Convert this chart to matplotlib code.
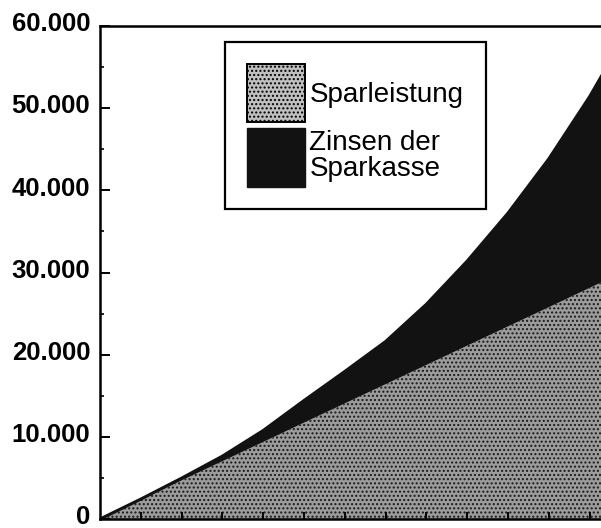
import matplotlib
matplotlib.use("Agg")
import matplotlib.pyplot as plt
import matplotlib.transforms as mtransforms
from matplotlib.patches import Patch
from matplotlib.ticker import FixedLocator

# ---- data ----
years = [0, 1, 2, 3, 4, 5, 6, 7, 8, 9, 10, 11, 12, 13]
sparleistung = [0, 2340, 4690, 7030, 9370, 11720, 14060, 16400, 18740, 21090, 23430, 25770, 28120, 30460]
zinsen = [0, 80, 280, 620, 1400, 2700, 3900, 5200, 7400, 10300, 13800, 18060, 23280, 29540]
series_labels = ["Sparleistung", "Zinsen der\nSparkasse"]
ytick_values = [0, 10000, 20000, 30000, 40000, 50000, 60000]
ytick_labels = ["0", "10.000", "20.000", "30.000", "40.000", "50.000", "60.000"]

plt.rcParams["font.family"] = ["Liberation Sans", "DejaVu Sans"]
plt.rcParams["hatch.color"] = "#1a1a1a"
plt.rcParams["hatch.linewidth"] = 1.0

W, H = 601, 528
fig = plt.figure(figsize=(W / 100, H / 100), dpi=100)
fig.patch.set_facecolor("white")

# axes: x=0 at px 100, y=0 at px 519, y=60000 at px 26; right side cut off by the figure edge
ax = fig.add_axes([100 / W, (H - 519) / H, (W - 100) / W, (519 - 26) / H])

grey = "#9c9c9c"
black = "#121212"
total = [s + z for s, z in zip(sparleistung, zinsen)]
ax.fill_between(years, 0, sparleistung, facecolor=grey, hatch="....", linewidth=0)
ax.fill_between(years, sparleistung, total, facecolor=black, linewidth=0)
ax.plot(years, total, color=black, linewidth=2.2, solid_joinstyle="round")

ax.set_xlim(0, (W - 100) / 40.8)
ax.set_ylim(0, 60000)

ax.yaxis.set_major_locator(FixedLocator(ytick_values))
ax.set_yticklabels(ytick_labels)
ax.yaxis.set_minor_locator(FixedLocator([5000, 15000, 25000, 35000, 45000, 55000]))
ax.tick_params(axis="y", which="major", direction="in", length=7, width=1.4,
               labelsize=18.5, pad=7, colors="black")
ax.tick_params(axis="y", which="minor", direction="in", length=3, width=1.2)
offset = mtransforms.ScaledTranslation(0, 3 / 72, fig.dpi_scale_trans)
for lbl in ax.get_yticklabels():
    lbl.set_fontweight("bold")
    lbl.set_transform(lbl.get_transform() + offset)

ax.xaxis.set_major_locator(FixedLocator(years[1:]))
ax.tick_params(axis="x", which="major", direction="in", length=5, width=1.4,
               labelbottom=False)

for side in ("left", "bottom", "top"):
    ax.spines[side].set_linewidth(1.8)
    ax.spines[side].set_color("black")
ax.spines["right"].set_visible(False)

handles = [
    Patch(facecolor="#c0c0c0", hatch="....", edgecolor="black", linewidth=1.4),
    Patch(facecolor=black, edgecolor=black, linewidth=1.0),
]
leg = ax.legend(handles, series_labels, loc="upper left",
                bbox_to_anchor=(225 / W, 1 - 42 / H), bbox_transform=fig.transFigure,
                borderaxespad=0, fontsize=20, handlelength=2.09, handleheight=2.84,
                handletextpad=0.15, borderpad=0.8, labelspacing=0.22,
                frameon=True, fancybox=False, shadow=False, framealpha=1)
leg.get_frame().set_edgecolor("black")
leg.get_frame().set_linewidth(1.6)
for t in leg.get_texts():
    t.set_linespacing(1.0)

fig.savefig("out.png", dpi=100, facecolor="white")
